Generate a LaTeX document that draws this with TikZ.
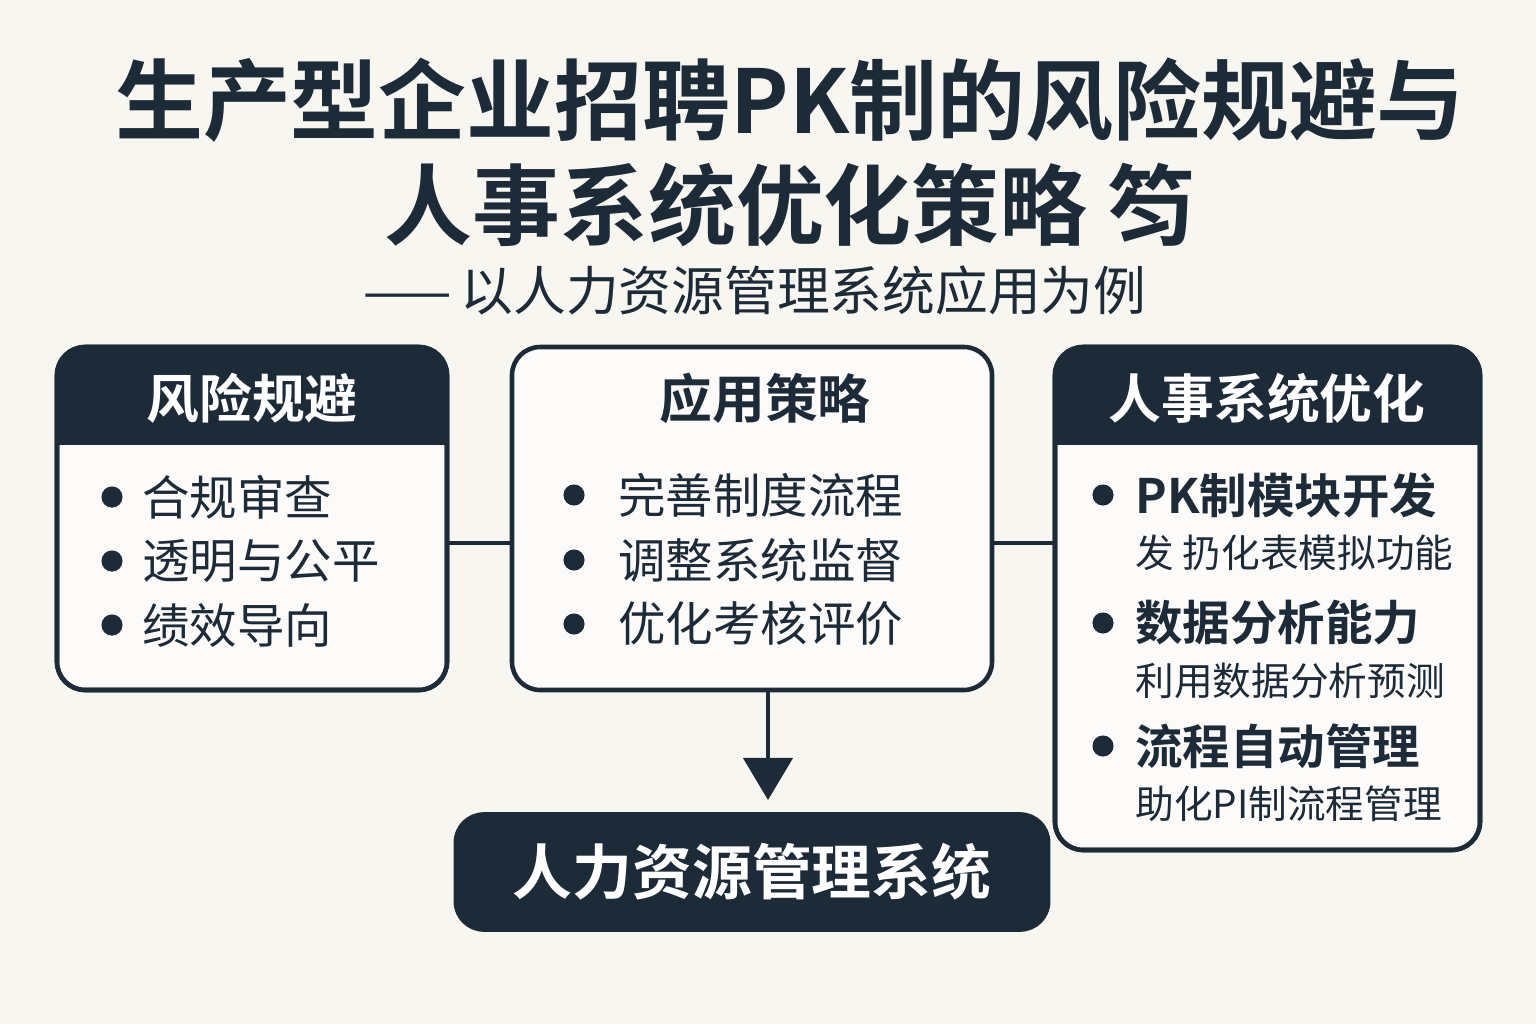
\documentclass[tikz,border=0pt]{standalone}
\usepackage{fontspec}
\usetikzlibrary{arrows.meta}
\setmainfont{Noto Sans CJK SC}
\newfontfamily\cjkbold{Noto Sans CJK SC Bold}
\definecolor{ink}{HTML}{1D2B38}
\definecolor{paper}{HTML}{F8F6F0}
\tikzset{
  panel/.style={draw=ink, line width=1.3pt, rounded corners=8pt, fill=white!60!paper},
  darkpanel/.style={draw=ink, line width=1.3pt, rounded corners=8pt, fill=ink},
  headtext/.style={font=\cjkbold\fontsize{15}{18}\selectfont},
  itemtext/.style={anchor=west, font=\fontsize{13.5}{16}\selectfont, text=ink},
  subtext/.style={anchor=west, font=\fontsize{11}{13}\selectfont, text=ink},
  dot/.style={circle, fill=ink, inner sep=0pt, minimum size=6pt},
  link/.style={draw=ink, line width=1.3pt}
}
\begin{document}
\begin{tikzpicture}[x=0.01cm,y=-0.01cm]
\fill[paper] (0,0) rectangle (1536,1024);
\useasboundingbox (0,0) rectangle (1536,1024);

% title
\node[text=ink, font=\cjkbold\fontsize{25}{30}\selectfont] (t1) at (790,100) {生产型企业招聘PK制的风险规避与};
\node[text=ink, font=\cjkbold\fontsize{25}{30}\selectfont] (t2) at (790,205) {人事系统优化策略\ 笉};
\node[text=ink, font=\fontsize{15}{18}\selectfont] (t3) at (755,290) {——\,以人力资源管理系统应用为例};

% left panel
\draw[panel] (57,347) rectangle (447,690);
\begin{scope}
\clip[rounded corners=8pt] (57,347) rectangle (447,690);
\fill[ink] (57,347) rectangle (447,445);
\end{scope}
\draw[ink, line width=1.3pt, rounded corners=8pt] (57,347) rectangle (447,690);
\node[headtext, text=white] (riskhead) at (252,398) {风险规避};
\foreach \y/\t [count=\i] in {497/合规审查, 561/透明与公平, 625/绩效导向}{
  \node[dot] (rd\i) at (112,\y) {};
  \node[itemtext] (ri\i) at (130,\y) {\t};
}

% middle panel
\draw[panel] (512,347) rectangle (992,690);
\node[headtext, text=ink] (midhead) at (765,398) {应用策略};
\foreach \y/\t [count=\i] in {495/完善制度流程, 560/调整系统监督, 624/优化考核评价}{
  \node[dot] (md\i) at (574,\y) {};
  \node[itemtext] (mi\i) at (606,\y) {\t};
}

% right panel
\draw[panel] (1055,347) rectangle (1480,850);
\begin{scope}
\clip[rounded corners=8pt] (1055,347) rectangle (1480,850);
\fill[ink] (1055,347) rectangle (1480,445);
\end{scope}
\draw[ink, line width=1.3pt, rounded corners=8pt] (1055,347) rectangle (1480,850);
\node[headtext, text=white] (hrhead) at (1267,398) {人事系统优化};
\foreach \y/\t/\s [count=\i] in {495/PK制模块开发/发 扔化表模拟功能, 623/数据分析能力/利用数据分析预测, 746/流程自动管理/助化PI制流程管理}{
  \node[dot] (hd\i) at (1103,\y) {};
  \node[itemtext, font=\cjkbold\fontsize{13.5}{16}\selectfont] (hi\i) at (1123,\y) {\t};
  \node[subtext] (hs\i) at (1123,\y+58) {\s};
}

% bottom
\node[darkpanel, minimum width=5.92cm, minimum height=1.15cm, text=white,
  font=\cjkbold\fontsize{17}{20}\selectfont] (hrms) at (752,872) {人力资源管理系统};

% connectors
\coordinate (lr) at (447,543);
\coordinate (ml) at (512,543);
\coordinate (mr) at (992,543);
\coordinate (rl) at (1055,543);
\coordinate (mb) at (768,690);
\coordinate (tip) at (768,800);
\draw[link] (lr) -- (ml);
\draw[link] (mr) -- (rl);
\draw[link, -{Triangle[length=12pt,width=14pt]}] (mb) -- (tip);
\end{tikzpicture}
\end{document}
